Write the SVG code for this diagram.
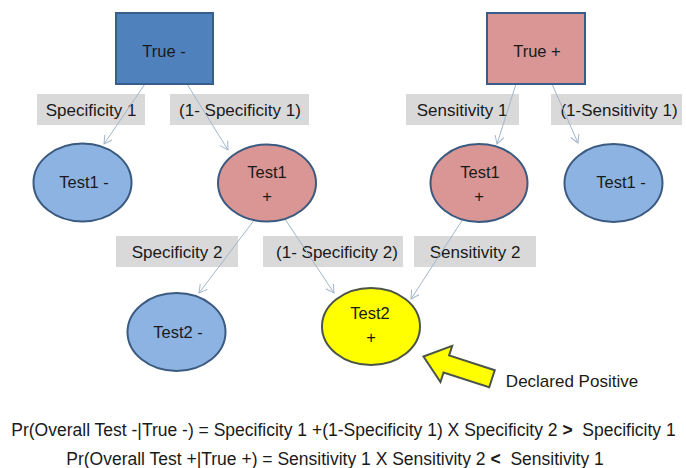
<svg xmlns="http://www.w3.org/2000/svg" width="686" height="468" viewBox="0 0 686 468">
<defs>
<style>
text{font-family:"Liberation Sans",Arial,sans-serif;fill:#1a1a1a;text-anchor:middle}
.nt{font-size:16.5px}
.lt{font-size:17px}
.ft{font-size:17.5px}
.lb{fill:#d9d9d9}
.blue{fill:#8db3e2;stroke:#3b5a80;stroke-width:2}
.red{fill:#d99694;stroke:#3b5a80;stroke-width:2}
.yel{fill:#ffff00;stroke:#4a5548;stroke-width:2}
.conn line{stroke:#a3b5cb;stroke-width:1;marker-end:url(#ah)}
</style>
<marker id="ah" markerUnits="userSpaceOnUse" markerWidth="12" markerHeight="12" refX="9" refY="5" orient="auto">
<path d="M1,0.5 L9,5 L1,9.5" fill="none" stroke="#a3b5cb" stroke-width="1"/>
</marker>
</defs>
<rect width="686" height="468" fill="#ffffff"/>

<g id="labels">
<g id="lbl-spec1"><rect class="lb" x="37" y="94" width="108" height="31"/><text class="lt" x="91" y="116">Specificity 1</text></g>
<g id="lbl-1spec1"><rect class="lb" x="170" y="94" width="139" height="31"/><text class="lt" x="240" y="116">(1- Specificity 1)</text></g>
<g id="lbl-sens1"><rect class="lb" x="406" y="94" width="113" height="31"/><text class="lt" x="462" y="116">Sensitivity 1</text></g>
<g id="lbl-1sens1"><rect class="lb" x="551" y="94" width="131" height="31"/><text class="lt" x="619" y="116">(1-Sensitivity 1)</text></g>
<g id="lbl-spec2"><rect class="lb" x="116" y="236" width="122" height="31"/><text class="lt" x="177" y="258">Specificity 2</text></g>
<g id="lbl-1spec2"><rect class="lb" x="263" y="236" width="140" height="31"/><text class="lt" x="337" y="258">(1- Specificity 2)</text></g>
<g id="lbl-sens2"><rect class="lb" x="414" y="236" width="122" height="31"/><text class="lt" x="475" y="258">Sensitivity 2</text></g>
</g>

<g id="connectors" class="conn">
<line x1="145" y1="84" x2="104" y2="144"/>
<line x1="187" y1="84" x2="228" y2="150"/>
<line x1="516" y1="84" x2="497" y2="144"/>
<line x1="552" y1="84" x2="578" y2="143"/>
<line x1="255" y1="219" x2="199" y2="293"/>
<line x1="285" y1="219" x2="334" y2="293"/>
<line x1="463" y1="219" x2="411" y2="299"/>
</g>

<g id="true-neg"><rect x="116" y="13" width="97" height="71" fill="#4f81bd" stroke="#385d8a" stroke-width="2"/><text class="nt" x="164" y="57">True -</text></g>
<g id="true-pos"><rect x="487" y="13" width="98" height="71" fill="#d99694" stroke="#385d8a" stroke-width="2"/><text class="nt" x="537" y="57">True +</text></g>

<g id="test1-neg-left"><ellipse class="blue" cx="82.5" cy="182.5" rx="49" ry="39"/><text class="nt" x="84" y="188">Test1 -</text></g>
<g id="test1-pos-left"><ellipse class="red" cx="267" cy="183" rx="49" ry="38.5"/><text class="nt" x="267" y="178">Test1</text><text class="nt" x="267" y="202">+</text></g>
<g id="test1-pos-right"><ellipse class="red" cx="479" cy="183" rx="48.5" ry="39"/><text class="nt" x="480" y="178">Test1</text><text class="nt" x="479" y="202">+</text></g>
<g id="test1-neg-right"><ellipse class="blue" cx="613.5" cy="183" rx="49" ry="39"/><text class="nt" x="621" y="188">Test1 -</text></g>
<g id="test2-neg"><ellipse class="blue" cx="176.5" cy="332" rx="49" ry="39"/><text class="nt" x="178" y="338">Test2 -</text></g>
<g id="test2-pos"><ellipse class="yel" cx="371" cy="326.5" rx="49" ry="38.5"/><text class="nt" x="370" y="319">Test2</text><text class="nt" x="371" y="343">+</text></g>

<g id="declared-arrow">
<path d="M0,0 L24,-19 L24,-9 L72,-9 L72,9 L24,9 L24,19 Z" transform="translate(423.5,356.5) rotate(18)" fill="#ffff00" stroke="#4a5548" stroke-width="2" stroke-linejoin="miter"/>
</g>
<text class="lt" x="572" y="387">Declared Positive</text>

<g id="formulas">
<text class="ft" x="343.5" y="435.5">Pr(Overall Test -|True -) = Specificity 1 +(1-Specificity 1) X Specificity 2&#160;<tspan font-weight="bold">&gt;</tspan>&#160; Specificity 1</text>
<text class="ft" x="335" y="464.5">Pr(Overall Test +|True +) = Sensitivity 1 X Sensitivity 2&#160;<tspan font-weight="bold">&lt;</tspan>&#160; Sensitivity 1</text>
</g>
</svg>
